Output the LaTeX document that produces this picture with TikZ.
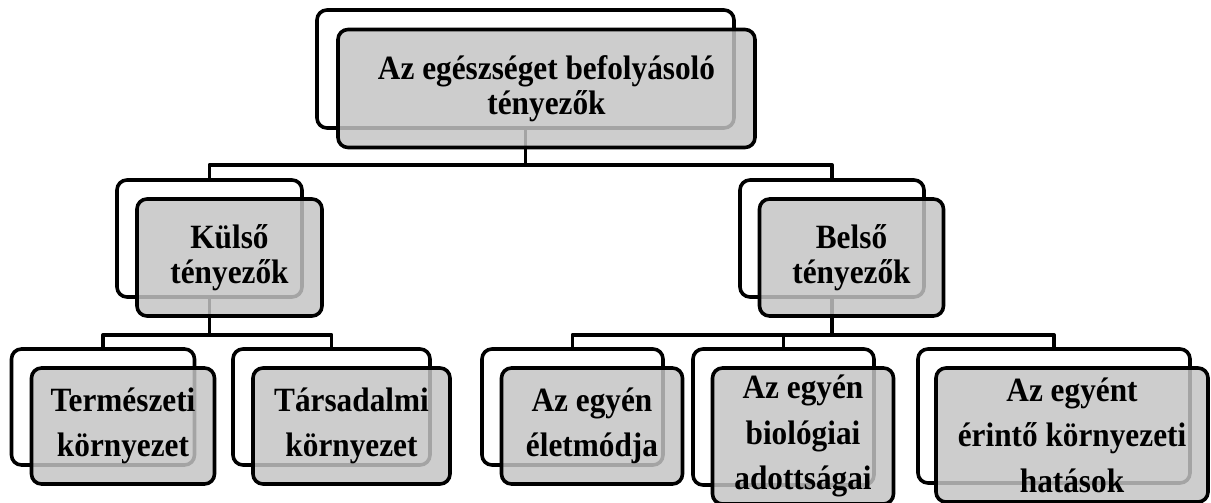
\documentclass[tikz,border=0pt]{standalone}
\usepackage{fontspec}
\setmainfont{Liberation Serif}
\newfontfamily\boxfont[FakeStretch=0.92]{Liberation Serif Bold}
\begin{document}
\begin{tikzpicture}[line join=round,
    backbox/.style={draw=black,line width=3.6bp,rectangle,rounded corners=10bp,fill=white,inner sep=0pt},
    frontbox/.style={draw=black,line width=3.6bp,rectangle,rounded corners=10bp,fill=black!23,fill opacity=0.84,text opacity=1,draw opacity=1,inner sep=0pt,align=center,font=\boxfont\fontsize{34bp}{35bp}\selectfont},
    lowbox/.style={frontbox,font=\boxfont\fontsize{34bp}{45.5bp}\selectfont},
    conn/.style={draw=black,line width=3.6bp},
    ]
    \useasboundingbox (0bp,0bp) rectangle (1211bp,503bp);
    %% back boxes
    \node (top0) at (525.5bp,434bp) [backbox,minimum width=417bp,minimum height=118bp] {};
    \node (kulso0) at (209.5bp,264.5bp) [backbox,minimum width=185bp,minimum height=117bp] {};
    \node (belso0) at (832bp,264.5bp) [backbox,minimum width=184bp,minimum height=117bp] {};
    \node (term0) at (103bp,96bp) [backbox,minimum width=183bp,minimum height=116bp] {};
    \node (tars0) at (331.5bp,96bp) [backbox,minimum width=197bp,minimum height=116bp] {};
    \node (elet0) at (572.5bp,96bp) [backbox,minimum width=181bp,minimum height=116bp] {};
    \node (biol0) at (783.5bp,86bp) [backbox,minimum width=181bp,minimum height=136bp] {};
    \node (erint0) at (1054bp,87bp) [backbox,minimum width=272bp,minimum height=134bp] {};
    %% connectors
    \draw [conn] (top0.south) -- ++(0bp,-35bp) -| (kulso0.north);
    \draw [conn] (top0.south) -- ++(0bp,-35bp) -| (belso0.north);
    \draw [conn] (kulso0.south) -- ++(0bp,-36bp) -| (term0.north);
    \draw [conn] (kulso0.south) -- ++(0bp,-36bp) -| (tars0.north);
    \draw [conn] (belso0.south) -- ++(0bp,-36bp) -| (elet0.north);
    \draw [conn] (belso0.south) -- ++(0bp,-36bp) -| (biol0.north);
    \draw [conn] (belso0.south) -- ++(0bp,-36bp) -| (erint0.north);
    %% front boxes
    \node (top) at (546.5bp,414.5bp) [frontbox,minimum width=417bp,minimum height=118bp] {Az egészséget befolyásoló\\tényezők};
    \node (kulso) at (229.5bp,245.5bp) [frontbox,minimum width=185bp,minimum height=117bp] {Külső\\tényezők};
    \node (belso) at (851.5bp,245.5bp) [frontbox,minimum width=184bp,minimum height=117bp] {Belső\\tényezők};
    \node (term) at (123bp,77bp) [lowbox,minimum width=183bp,minimum height=116bp] {Természeti\\környezet};
    \node (tars) at (351.5bp,77bp) [lowbox,minimum width=197bp,minimum height=116bp] {Társadalmi\\környezet};
    \node (elet) at (592bp,77bp) [lowbox,minimum width=181bp,minimum height=116bp] {Az egyén\\életmódja};
    \node (biol) at (803bp,67bp) [lowbox,minimum width=181bp,minimum height=136bp] {Az egyén\\biológiai\\adottságai};
    \node (erint) at (1072bp,68bp) [lowbox,minimum width=272bp,minimum height=134bp] {Az egyént\\érintő környezeti\\hatások};
    %
\end{tikzpicture}
\end{document}
